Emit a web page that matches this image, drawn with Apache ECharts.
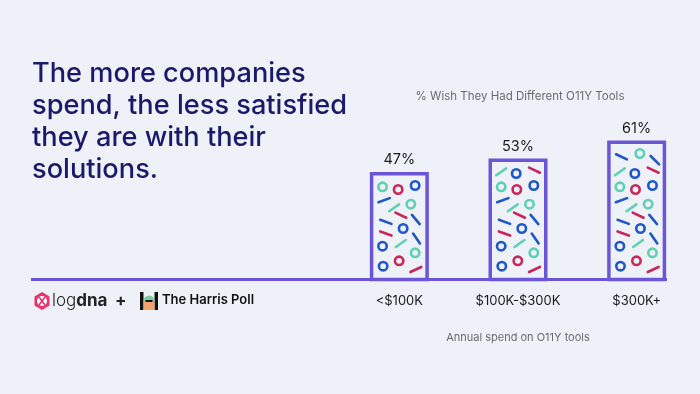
<!DOCTYPE html>
<html>
<head>
<meta charset="utf-8">
<script src="https://cdn.jsdelivr.net/npm/echarts@6/dist/echarts.min.js"></script>
<style>
  html, body { margin: 0; padding: 0; background: #eef2f8; }
  #chart { width: 700px; height: 394px; }
</style>
</head>
<body>
<div id="chart"></div>
<script>
const categories = ['<$100K', '$100K-$300K', '$300K+'];
const values = [47, 53, 61];
const titleLines = ['The more companies', 'spend, the less satisfied', 'they are with their', 'solutions.'];
const chartSubtitle = '% Wish They Had Different O11Y Tools';
const axisName = 'Annual spend on O11Y tools';

const PURPLE = '#6c56d8';
const COLORS = { teal: '#5fd0b0', red: '#c9265b', blue: '#1f57c9' };
// decorative confetti inside each bar: [shape, color, dx from bar left, height above base, angle]
const confetti = [
  ['c', 'teal', 32.7, 126],
  ['d', 'blue', 14.3, 122.7, -25],
  ['d', 'blue', 47.7, 119.3, -45],
  ['d', 'teal', 12.7, 107.7, 35],
  ['c', 'blue', 27.7, 106],
  ['d', 'red', 46, 109.3, -25],
  ['c', 'teal', 12.7, 92.7],
  ['c', 'red', 28.3, 90],
  ['c', 'blue', 45.3, 94],
  ['d', 'blue', 14.3, 79.3, 20],
  ['d', 'teal', 24.3, 71.7, 35],
  ['c', 'teal', 41, 75.3],
  ['d', 'red', 31, 64.3, -25],
  ['d', 'blue', 16, 57.7, -20],
  ['d', 'blue', 46, 60, -50],
  ['d', 'red', 16, 46, -20],
  ['c', 'blue', 33.3, 51],
  ['c', 'blue', 12.7, 33.3],
  ['d', 'teal', 31, 36, 35],
  ['d', 'blue', 46.7, 41, -55],
  ['c', 'teal', 45.3, 26.7],
  ['c', 'blue', 13.3, 13.3],
  ['c', 'red', 29.3, 18.7],
  ['d', 'red', 46, 10, 25]
];

const chart = echarts.init(document.getElementById('chart'));

function renderBar(params, api) {
  const i = api.value(0), v = api.value(1);
  const top = api.coord([i, v]);
  const base = api.coord([i, 0]);
  const cx = top[0];
  const w = 55.5, lw = 3.5;
  const x0 = cx - w / 2 - lw / 2;
  const avail = base[1] - top[1];
  const children = [];
  confetti.forEach(function (c) {
    const ext = c[0] === 'c' ? 5.5 : 4.5;
    if (c[3] + ext > avail - 4) return;
    const px = x0 + c[2], py = base[1] - c[3];
    if (c[0] === 'c') {
      children.push({ type: 'circle', shape: { cx: px, cy: py, r: 4.2 },
        style: { fill: 'none', stroke: COLORS[c[1]], lineWidth: 2.6 } });
    } else {
      const a = c[4] * Math.PI / 180, L = 6;
      children.push({ type: 'line',
        shape: { x1: px - L * Math.cos(a), y1: py + L * Math.sin(a), x2: px + L * Math.cos(a), y2: py - L * Math.sin(a) },
        style: { stroke: COLORS[c[1]], lineWidth: 2.6, lineCap: 'round' } });
    }
  });
  children.push({ type: 'rect', shape: { x: cx - w / 2, y: top[1], width: w, height: base[1] - top[1] },
    style: { fill: 'rgba(0,0,0,0)', stroke: PURPLE, lineWidth: lw } });
  children.push({ type: 'text', style: { text: v + '%', x: cx, y: top[1] - 14, align: 'center', verticalAlign: 'middle',
    fontSize: 14.5, fontFamily: 'Inter', fill: '#1a1a1a' } });
  return { type: 'group', children: children };
}

chart.setOption({
  backgroundColor: '#eef2f8',
  animation: false,
  title: {
    text: titleLines.join('\n'),
    left: 27, top: 53,
    textStyle: { fontFamily: 'Inter', fontSize: 27.2, fontWeight: 500, lineHeight: 32, color: '#1a196a' }
  },
  grid: { left: 340, right: 4, top: 54.5, bottom: 114.5 },
  xAxis: {
    type: 'category', data: categories,
    axisLine: { show: false }, axisTick: { show: false },
    axisLabel: { margin: 15, fontSize: 13, fontFamily: 'Inter', color: '#1a1a1a' },
    name: axisName, nameLocation: 'middle', nameGap: 53,
    nameTextStyle: { fontSize: 11, fontFamily: 'Inter', color: '#6a6a6a' }
  },
  yAxis: { type: 'value', min: 0, max: 100, show: false, splitLine: { show: false } },
  series: [{
    type: 'custom',
    renderItem: renderBar,
    data: values.map(function (v, i) { return [i, v]; }),
    z: 3
  }],
  graphic: [
    { type: 'text', x: 520, y: 97, style: { text: chartSubtitle, fontSize: 11.5, fontFamily: 'Inter', fill: '#6a6a6a',
      align: 'center', verticalAlign: 'middle' } },
    { type: 'line', shape: { x1: 31, y1: 279.5, x2: 667, y2: 279.5 }, style: { stroke: PURPLE, lineWidth: 3 }, z: 2 },
    // logdna logo
    { type: 'polygon', shape: { points: [[42, 292], [49.5, 296.5], [49.5, 305.5], [42, 310], [34.5, 305.5], [34.5, 296.5]] },
      style: { fill: '#e8336d' } },
    { type: 'circle', shape: { cx: 42, cy: 301, r: 5 }, style: { fill: '#ffffff' } },
    { type: 'line', shape: { x1: 39, y1: 297, x2: 45, y2: 305 }, style: { stroke: '#e8336d', lineWidth: 1.5 } },
    { type: 'line', shape: { x1: 45, y1: 297, x2: 39, y2: 305 }, style: { stroke: '#e8336d', lineWidth: 1.5 } },
    { type: 'text', left: 52, top: 292, style: {
      text: '{l|log}{b|dna}', rich: {
        l: { fontSize: 17, fontFamily: 'Inter', fontWeight: 300, fill: '#222' },
        b: { fontSize: 17, fontFamily: 'Inter', fontWeight: 700, fill: '#222' } } } },
    { type: 'text', left: 115, top: 292, style: { text: '+', fontSize: 17, fontWeight: 700, fontFamily: 'Inter', fill: '#222' } },
    // Harris Poll logo
    { type: 'rect', shape: { x: 140, y: 292, width: 3.5, height: 18 }, style: { fill: '#111' } },
    { type: 'rect', shape: { x: 154.5, y: 292, width: 3.5, height: 18 }, style: { fill: '#111' } },
    { type: 'sector', shape: { cx: 149, cy: 301, r: 5.5, startAngle: Math.PI, endAngle: 2 * Math.PI }, style: { fill: '#7fcb9f' } },
    { type: 'rect', shape: { x: 143.5, y: 301, width: 11, height: 9 }, style: { fill: '#f2a26c' } },
    { type: 'rect', shape: { x: 145.5, y: 300, width: 7, height: 2 }, style: { fill: '#111' } },
    { type: 'text', left: 162, top: 294, style: { text: 'The Harris Poll', fontSize: 13, fontWeight: 600, fontFamily: 'Inter', fill: '#111' } }
  ]
});
</script>
</body>
</html>
